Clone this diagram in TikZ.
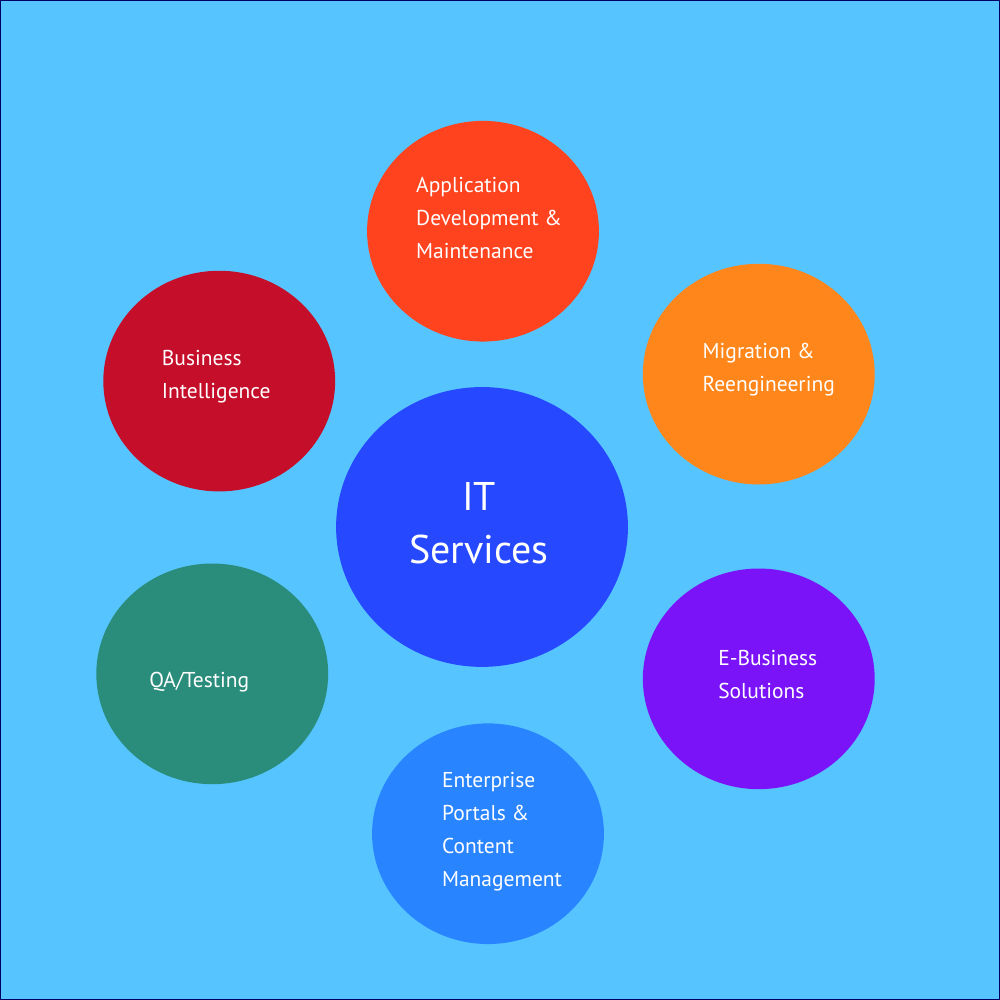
\documentclass[tikz,border=0pt]{standalone}
\usepackage{fontspec}
\setmainfont{PT Sans}
\usetikzlibrary{shapes.geometric}
\definecolor{skyback}{HTML}{56C5FF}
\definecolor{itblue}{HTML}{2649FF}
\definecolor{appred}{HTML}{FF431F}
\definecolor{migorange}{HTML}{FF861A}
\definecolor{ebviolet}{HTML}{7B13F9}
\definecolor{entblue}{HTML}{2984FF}
\definecolor{qagreen}{HTML}{2A8C7A}
\definecolor{bired}{HTML}{C50E2A}

\begin{document}
\begin{tikzpicture}[x=0.025cm, y=0.025cm,
    service/.style={ellipse, minimum width=5.8cm, minimum height=5.52cm, inner sep=0pt},
    label text/.style={text=white, align=left, font=\fontsize{15.3}{23.5}\selectfont}]
        % background
        \fill [skyback, draw=blue!40!black, line width=0.6pt] (0,0) rectangle (1000,1000);
        
        \node [service, minimum width=7.3cm, minimum height=7.0cm, fill=itblue] (it) at (482,473) {};
        \node [service, fill=appred] (app) at (483,769) {};
        \node [service, fill=migorange] (mig) at (759,626) {};
        \node [service, fill=ebviolet] (ebiz) at (759,321) {};
        \node [service, fill=entblue] (ent) at (488,166) {};
        \node [service, fill=qagreen] (qa) at (212,326) {};
        \node [service, fill=bired] (bi) at (219,619) {};
        
        % texts
        \node [label text, font=\fontsize{28.5}{38}\selectfont, align=center] (ittext) at ([shift={(-3,4)}]it.center) {IT\\ Services};
        \node [label text] (apptext) at ([shift={(6,13)}]app.center) {Application\\ Development \&\\ Maintenance};
        \node [label text] (migtext) at ([shift={(10,4)}]mig.center) {Migration \&\\ Reengineering};
        \node [label text] (ebiztext) at ([shift={(9,4)}]ebiz.center) {E-Business\\ Solutions};
        \node [label text] (enttext) at ([shift={(14,2)}]ent.center) {Enterprise\\ Portals \&\\ Content\\ Management};
        \node [label text] (qatext) at ([shift={(-13,-8)}]qa.center) {QA/Testing};
        \node [label text] (bitext) at ([shift={(-3,4)}]bi.center) {Business\\ Intelligence};
    \end{tikzpicture}
\end{document}
